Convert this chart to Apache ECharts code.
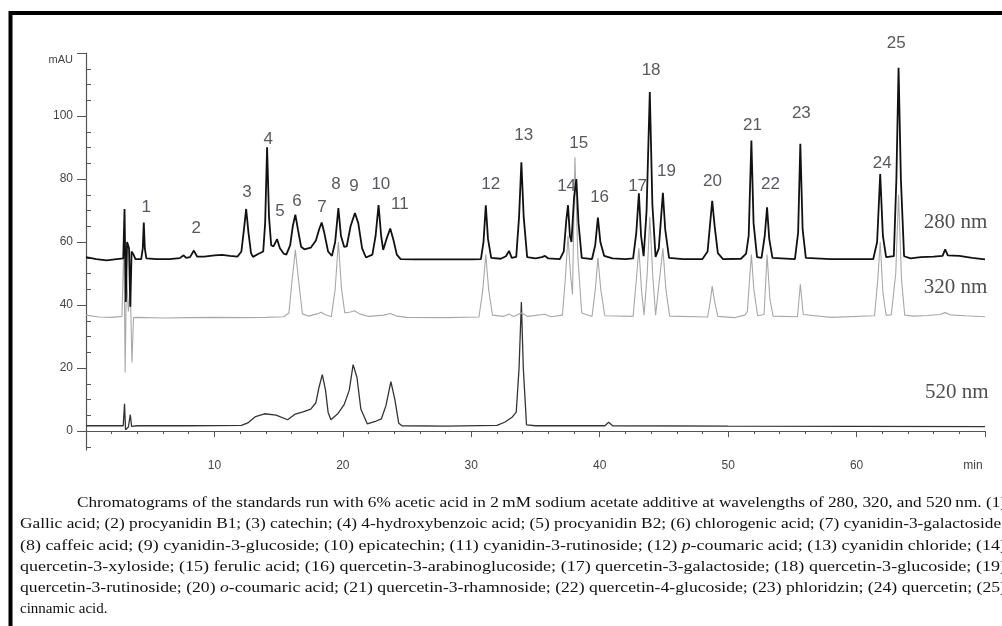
<!DOCTYPE html>
<html>
<head>
<meta charset="utf-8">
<script src="https://cdn.jsdelivr.net/npm/echarts@6/dist/echarts.min.js"></script>
<style>
  html, body { margin: 0; padding: 0; background: #fff; overflow: hidden; }
  #chart { width: 1002px; height: 626px; }
</style>
</head>
<body>
<div id="chart"></div>
<script>
// retention time (min), absorbance (mAU)
var trace280 = [
  [0, 55.2], [0.8, 54.6], [1.6, 54.2], [2.4, 54.6], [2.9, 54.8], [3.0, 70.5], [3.1, 41], [3.2, 60],
  [3.35, 58], [3.45, 39.5], [3.55, 57], [3.7, 56], [3.85, 54.6], [4.3, 54.6], [4.42, 58], [4.5, 66.2],
  [4.58, 58], [4.7, 54.8], [5.5, 54.6], [6.5, 54.6], [7.3, 54.9], [7.6, 55.8], [7.8, 55], [8.1, 55.2],
  [8.4, 57.3], [8.65, 55.4], [9.2, 55.4], [10, 55.8], [10.6, 55.9], [11.2, 55.6], [11.8, 55.4], [12.1, 57],
  [12.3, 64], [12.47, 70.5], [12.65, 63], [12.85, 56.5], [13.0, 55.3], [13.4, 56.2], [13.8, 57], [13.95, 66],
  [14.1, 90.1], [14.25, 68], [14.42, 59], [14.6, 58.6], [14.88, 60.9], [15.1, 58], [15.4, 56.3], [15.6, 56],
  [15.9, 59], [16.1, 65], [16.3, 68.7], [16.5, 64], [16.75, 58.5], [17.0, 57.7], [17.5, 58.2], [17.9, 60.5],
  [18.15, 64], [18.35, 66.2], [18.55, 63], [18.85, 57], [19.15, 55.6], [19.4, 60], [19.65, 70.8], [19.85, 62],
  [20.1, 58.5], [20.3, 58.6], [20.6, 65], [20.94, 69.2], [21.2, 66], [21.5, 58], [21.8, 55.1], [22.3, 56],
  [22.55, 62], [22.78, 71.7], [22.98, 62], [23.14, 57.5], [23.4, 61], [23.69, 64.3], [23.95, 60.5], [24.2, 56],
  [24.5, 54.6], [25.5, 54.5], [27, 54.5], [28.5, 54.5], [30, 54.5], [30.75, 54.6], [30.95, 60], [31.13, 71.7],
  [31.3, 61], [31.55, 55], [32.3, 54.7], [32.7, 55.5], [32.94, 57.2], [33.15, 55], [33.5, 55.3], [33.72, 68],
  [33.9, 85.3], [34.08, 68], [34.35, 55.2], [35, 54.8], [35.5, 55.2], [35.74, 55.6], [36.0, 54.8], [36.9, 54.6],
  [37.2, 57], [37.4, 67], [37.53, 71.7], [37.68, 62], [37.8, 60], [38.0, 74], [38.18, 80], [38.35, 66],
  [38.6, 55], [39.4, 54.6], [39.65, 59], [39.86, 67.8], [40.05, 60], [40.35, 55.6], [41, 54.8], [42, 54.6],
  [42.6, 54.8], [42.85, 63], [43.05, 75.5], [43.22, 62], [43.42, 55.5], [43.65, 70], [43.9, 107.6], [44.1, 72],
  [44.35, 55.3], [44.6, 58], [44.92, 75.6], [45.1, 64], [45.4, 55], [46.5, 54.6], [48, 54.6], [48.4, 57],
  [48.6, 66], [48.76, 73.1], [48.95, 65], [49.2, 56.5], [49.6, 54.6], [51.0, 54.7], [51.4, 56.3], [51.6, 62],
  [51.81, 92.2], [51.98, 66], [52.25, 55.2], [52.6, 55], [52.85, 62], [53.03, 71], [53.2, 61], [53.45, 55],
  [55.2, 54.6], [55.45, 63], [55.62, 91.2], [55.8, 64], [56.05, 55], [58, 54.6], [61.3, 54.6], [61.6, 60],
  [61.84, 81.6], [62.05, 62], [62.3, 55.2], [62.9, 55.5], [63.1, 80], [63.27, 115.3], [63.45, 80], [63.7, 55.5],
  [64.2, 54.8], [65, 55.2], [66, 55.4], [66.7, 55.6], [66.9, 57.7], [67.1, 55.8], [68, 55.6], [69, 55],
  [70, 54.5]
];

var trace320 = [
  [0, 36.8], [1, 36.2], [2, 36.1], [2.8, 36.4], [2.95, 60], [3.05, 18.6], [3.15, 50], [3.3, 38],
  [3.45, 45], [3.58, 21.8], [3.7, 36], [4, 36.1], [6, 35.9], [8, 36], [10, 36.1], [12, 36],
  [14, 36.1], [15.4, 36.3], [15.8, 37.5], [16.05, 48], [16.3, 57.5], [16.55, 48], [16.85, 37.2], [17.3, 36.5],
  [18.0, 37.2], [18.3, 37.7], [18.6, 37], [19.1, 36.3], [19.4, 45], [19.65, 60], [19.9, 45], [20.15, 37.5],
  [20.6, 37.8], [20.9, 38.2], [21.3, 37.2], [22, 36.4], [23.2, 36.8], [23.7, 37.3], [24.2, 36.5], [25, 36.1],
  [28, 36], [30.6, 36.2], [30.9, 45], [31.13, 56], [31.35, 45], [31.65, 36.8], [32.5, 36.4], [32.94, 37.2],
  [33.3, 36.4], [33.9, 37.5], [34.4, 36.4], [35.74, 37.1], [36.2, 36.3], [37.1, 36.8], [37.35, 50], [37.53, 62],
  [37.72, 50], [37.88, 43.4], [38.07, 86.9], [38.3, 55], [38.6, 37.5], [39.4, 36.4], [39.66, 45], [39.86, 55],
  [40.08, 45], [40.4, 36.6], [42.6, 36.4], [42.85, 48], [43.05, 58], [43.25, 45], [43.45, 36.8], [43.7, 50],
  [43.9, 68], [44.12, 50], [44.35, 36.8], [44.65, 48], [44.92, 58], [45.15, 45], [45.45, 36.5], [48.4, 36.2],
  [48.6, 41], [48.76, 46], [48.95, 41], [49.2, 36.4], [50.5, 36], [51.3, 36.8], [51.5, 38], [51.65, 47],
  [51.81, 56], [52.0, 45], [52.3, 36.6], [52.8, 37], [53.03, 56], [53.25, 42], [53.5, 36.5], [55.4, 36.3],
  [55.62, 46.6], [55.85, 37], [58, 36.1], [61.4, 36.6], [61.65, 48], [61.84, 60], [62.05, 44], [62.3, 36.8],
  [62.7, 36.9], [63.05, 50], [63.27, 75], [63.5, 48], [63.75, 36.8], [64.5, 36.5], [65.5, 36.7], [66.5, 37],
  [66.9, 37.6], [67.3, 36.9], [68.5, 36.6], [70, 36.3]
];

var trace520 = [
  [0, 1.7], [2.9, 1.7], [3.0, 8.7], [3.08, 0.4], [3.3, 1.3], [3.45, 5.2], [3.55, 1.5], [4, 1.7],
  [8, 1.7], [12.1, 1.8], [12.6, 2.6], [13.2, 4.6], [13.9, 5.5], [14.8, 5.1], [15.7, 3.6], [16.3, 5.4],
  [16.9, 6.1], [17.5, 7], [17.9, 9], [18.15, 14], [18.4, 17.9], [18.65, 13], [18.85, 6], [19.07, 3.6],
  [19.6, 5.5], [20.1, 8.4], [20.5, 13], [20.8, 21.1], [21.1, 17], [21.4, 7], [21.9, 2.3], [22.6, 3.2],
  [23.0, 3.9], [23.35, 8], [23.74, 15.7], [24.05, 10], [24.35, 2.5], [24.6, 1.7], [28, 1.6], [32, 1.8],
  [32.6, 2.8], [33.2, 4.5], [33.5, 6], [33.72, 20], [33.9, 41], [34.05, 20], [34.3, 2], [35, 1.7],
  [40.4, 1.7], [40.7, 2.8], [41.0, 1.7], [50, 1.6], [60, 1.5], [70, 1.4]
];

// peak numbers and where their labels sit (min, mAU)
var peakNames = ['1', '2', '3', '4', '5', '6', '7', '8', '9', '10', '11', '12', '13',
  '14', '15', '16', '17', '18', '19', '20', '21', '22', '23', '24', '25'];
var peakLabelT = [4.69, 8.58, 12.54, 14.18, 15.11, 16.43, 18.37, 19.46, 20.86, 22.96, 24.44, 31.52, 34.08,
  37.42, 38.36, 39.99, 42.95, 44.0, 45.2, 48.78, 51.89, 53.29, 55.7, 62.0, 63.09];
var peakLabelV = [71.1, 64.4, 75.9, 92.5, 69.8, 73.0, 71.1, 78.4, 77.8, 78.4, 72.0, 78.4, 94.0,
  77.8, 91.2, 74.3, 77.8, 114.4, 82.3, 79.4, 96.9, 78.4, 100.7, 85.1, 123.0];

var waveNames = ['280 nm', '320 nm', '520 nm'];
var waveLabelT = [67.7, 67.7, 67.8];
var waveLabelV = [66.1, 45.7, 12.4];

var yLabelValues = [0, 20, 40, 60, 80, 100, 120];
var yMinorValues = [-5, 5, 10, 15, 25, 30, 35, 45, 50, 55, 65, 70, 75, 85, 90, 95, 105, 110, 115];

var captionLines = [
  'Chromatograms of the standards run with 6% acetic acid in 2\u2009mM sodium acetate additive at wavelengths of 280, 320, and 520\u2009nm. (1)',
  'Gallic acid; (2) procyanidin B1; (3) catechin; (4) 4-hydroxybenzoic acid; (5) procyanidin B2; (6) chlorogenic acid; (7) cyanidin-3-galactoside;',
  '(8) caffeic acid; (9) cyanidin-3-glucoside; (10) epicatechin; (11) cyanidin-3-rutinoside; (12) {i|p}-coumaric acid; (13) cyanidin chloride; (14)',
  'quercetin-3-xyloside; (15) ferulic acid; (16) quercetin-3-arabinoglucoside; (17) quercetin-3-galactoside; (18) quercetin-3-glucoside; (19)',
  'quercetin-3-rutinoside; (20) {i|o}-coumaric acid; (21) quercetin-3-rhamnoside; (22) quercetin-4-glucoside; (23) phloridzin; (24) quercetin; (25)',
  'cinnamic acid.'
];

var chart = echarts.init(document.getElementById('chart'));

var capFont = '15px "Liberation Serif"';
var ctx = document.createElement('canvas').getContext('2d');
ctx.font = capFont;
var caption = captionLines.map(function (line, i) {
  var x0 = i === 0 ? 77 : 20;
  var plain = line.replace(/\{i\|(.)\}/g, '$1');
  var w = ctx.measureText(plain).width;
  var sx = i === captionLines.length - 1 ? 1 : (1006 - x0) / w;
  return {
    type: 'text',
    x: x0,
    y: 503 + i * 21.3,
    scaleX: sx,
    silent: true,
    style: {
      text: line,
      font: capFont,
      fill: '#111',
      verticalAlign: 'middle',
      rich: { i: { fontStyle: 'italic', fontFamily: 'Liberation Serif', fontSize: 15 } }
    }
  };
});

var axisColor = '#555';
var labelStyle = { color: '#444', fontSize: 12, fontFamily: 'Liberation Sans' };

var option = {
  animation: false,
  backgroundColor: '#fff',
  grid: { left: 86, right: 17, top: 53, bottom: 176 },
  xAxis: [
    {
      type: 'value', min: 0, max: 70, interval: 10,
      axisLine: { lineStyle: { color: axisColor, width: 1.2 } },
      axisTick: { length: 6, lineStyle: { color: axisColor } },
      splitLine: { show: false },
      axisLabel: Object.assign({}, labelStyle, {
        margin: 10,
        formatter: function (v) {
          if (v === 0) return '';
          if (v === 70) return '{m|min}';
          return v;
        },
        rich: { m: { color: '#444', fontSize: 12, fontFamily: 'Liberation Sans', padding: [0, 24, 0, 0] } }
      })
    },
    {
      type: 'value', min: 0, max: 70, interval: 2,
      axisLine: { show: false },
      axisTick: { inside: true, length: 3, lineStyle: { color: axisColor } },
      axisLabel: { show: false },
      splitLine: { show: false }
    }
  ],
  yAxis: [
    {
      type: 'value', min: -6, max: 120,
      axisLine: { show: true, lineStyle: { color: axisColor, width: 1.2 } },
      axisTick: { show: true, length: 9, customValues: yLabelValues, lineStyle: { color: axisColor } },
      splitLine: { show: false },
      axisLabel: Object.assign({}, labelStyle, {
        margin: 13,
        customValues: yLabelValues,
        formatter: function (v) { return v === 120 ? '{u|mAU}' : v; },
        rich: { u: { color: '#444', fontSize: 11, fontFamily: 'Liberation Sans', padding: [14, 0, 0, 0] } }
      })
    },
    {
      type: 'value', min: -6, max: 120,
      axisLine: { show: false },
      axisTick: { show: true, length: 5, customValues: yMinorValues, lineStyle: { color: axisColor } },
      axisLabel: { show: false },
      splitLine: { show: false }
    }
  ],
  series: [
    {
      name: '520 nm', type: 'line', data: trace520, showSymbol: false, silent: true,
      lineStyle: { color: '#333', width: 1.3 }
    },
    {
      name: '320 nm', type: 'line', data: trace320, showSymbol: false, silent: true,
      lineStyle: { color: '#a8a8a8', width: 1.1 }
    },
    {
      name: '280 nm', type: 'line', data: trace280, showSymbol: false, silent: true,
      lineStyle: { color: '#111', width: 1.8 }
    },
    {
      type: 'scatter', symbolSize: 0, silent: true, clip: false,
      data: peakNames.map(function (n, i) { return { name: n, value: [peakLabelT[i], peakLabelV[i]] }; }),
      label: {
        show: true, position: 'inside', formatter: '{b}',
        fontSize: 17, color: '#2e2e36', fontFamily: 'Liberation Sans'
      }
    },
    {
      type: 'scatter', symbolSize: 0, silent: true, clip: false,
      data: waveNames.map(function (n, i) { return { name: n, value: [waveLabelT[i], waveLabelV[i]] }; }),
      label: {
        show: true, position: 'inside', formatter: '{b}',
        fontSize: 21, color: '#222', fontFamily: 'Liberation Serif'
      }
    }
  ],
  graphic: [
    {
      type: 'rect', silent: true,
      shape: { x: 10.5, y: 13, width: 1100, height: 700 },
      style: { fill: 'none', stroke: '#000', lineWidth: 4 }
    }
  ].concat(caption)
};

chart.setOption(option);
</script>
</body>
</html>
